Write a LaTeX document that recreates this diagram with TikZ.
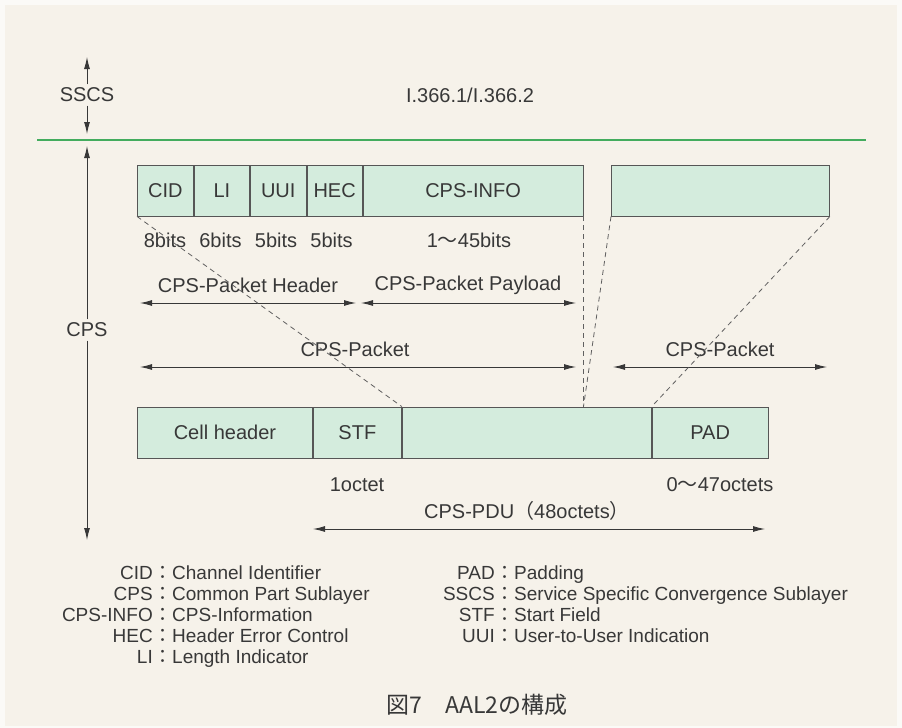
\documentclass[tikz,border=0pt]{standalone}
\usepackage{fontspec}
\setmainfont{Liberation Sans}
\newfontfamily\jp{Noto Sans CJK JP}
\usetikzlibrary{arrows.meta}
\definecolor{paper}{HTML}{F6F2EA}
\definecolor{margin}{HTML}{FBFAF7}
\definecolor{mint}{HTML}{D4ECDD}
\definecolor{ink}{HTML}{383838}
\definecolor{layer}{HTML}{43AC5E}

\begin{document}
\begin{tikzpicture}[x=1pt,y=-1pt,
  every node/.style={text=ink,font=\fontsize{20}{24}\selectfont},
  fld/.style={draw=ink!85,fill=mint,line width=0.9pt,minimum height=51pt,inner sep=0pt,anchor=west},
  lbl/.style={inner sep=1pt},
  key/.style={inner sep=0pt,anchor=base east,font=\fontsize{19}{21}\selectfont},
  val/.style={inner sep=0pt,anchor=base west,font=\fontsize{19}{21}\selectfont},
  dim/.style={ink,line width=0.9pt,{Latex[length=12pt,width=6pt]}-{Latex[length=12pt,width=6pt]}},
  tip/.style={ink,line width=0.9pt,-{Latex[length=12pt,width=6pt]}},
  guide/.style={ink!80,line width=0.8pt,dash pattern=on 5pt off 4pt}]
 \useasboundingbox (0,0) rectangle (902,728);
 \fill[margin] (0,0) rectangle (902,728);
 \fill[paper] (5,5) rectangle (897,726);
 % layer split
 \coordinate (ruleL) at (37,140);
 \coordinate (ruleR) at (866,140);
 \draw[layer,line width=2pt] (ruleL) -- (ruleR);
 \node (sscs) at (87,95) {SSCS};
 \coordinate (sscsUp) at (87,57);
 \coordinate (sscsDn) at (87,134);
 \draw[tip] (sscs) -- (sscsUp);
 \draw[tip] (sscs) -- (sscsDn);
 \node (itu) at (470,95) {I.366.1/I.366.2};
 \node (cps) at (87,330) {CPS};
 \coordinate (cpsUp) at (87,146);
 \coordinate (cpsDn) at (87,540);
 \draw[tip] (cps) -- (cpsUp);
 \draw[tip] (cps) -- (cpsDn);
 % CPS packets
 \node[fld,minimum width=56pt] (cid) at (137,190.5) {CID};
 \node[fld,minimum width=55pt] (li) at (cid.east) {LI};
 \node[fld,minimum width=56pt] (uui) at (li.east) {UUI};
 \node[fld,minimum width=55pt] (hec) at (uui.east) {HEC};
 \node[fld,minimum width=220pt] (info) at (hec.east) {CPS-INFO};
 \node[fld,minimum width=218pt] (nxt) at (611,190.5) {};
 \node[lbl] (bcid) at (165,240) {8bits};
 \node[lbl] (bli) at (220.5,240) {6bits};
 \node[lbl] (buui) at (276,240) {5bits};
 \node[lbl] (bhec) at (331.5,240) {5bits};
 \node[lbl] (binfo) at (469,240) {1{\jp ～}45bits};
 \node[lbl] (hdr) at (248,285) {CPS-Packet Header};
 \node[lbl] (pay) at (468,285) {CPS-Packet Payload};
 \coordinate (hdrL) at (140,303);
 \coordinate (hdrR) at (356,303);
 \coordinate (payL) at (361,303);
 \coordinate (payR) at (576,303);
 \draw[dim] (hdrL) -- (hdrR);
 \draw[dim] (payL) -- (payR);
 \node[lbl] (pkt) at (355,349) {CPS-Packet};
 \node[lbl] (pkt2) at (720,349) {CPS-Packet};
 \coordinate (pktL) at (140,367);
 \coordinate (pktR) at (576,367);
 \coordinate (pkt2L) at (613,367);
 \coordinate (pkt2R) at (827,367);
 \draw[dim] (pktL) -- (pktR);
 \draw[dim] (pkt2L) -- (pkt2R);
 % ATM cell payload
 \node[fld,minimum width=175pt] (cell) at (137,432.5) {Cell header};
 \node[fld,minimum width=88pt] (stf) at (cell.east) {STF};
 \node[fld,minimum width=249pt] (mid) at (stf.east) {};
 \node[fld,minimum width=116pt] (pad) at (mid.east) {PAD};
 \coordinate (join) at (info.south east |- mid.north);
 \draw[guide] (cid.south west) -- (mid.north west);
 \draw[guide] (info.south east) -- (join);
 \draw[guide] (nxt.south west) -- (join);
 \draw[guide] (nxt.south east) -- (pad.north west);
 \node[lbl] (ostf) at (357,485) {1octet};
 \node[lbl] (opad) at (720,485) {0{\jp ～}47octets};
 \node[lbl] (pdu) at (527,511) {CPS-PDU{\jp （}48octets{\jp ）}};
 \coordinate (pduL) at (313,529);
 \coordinate (pduR) at (765,529);
 \draw[dim] (pduL) -- (pduR);
 % abbreviations
 \foreach \k/\v [count=\i] in {CID/Channel Identifier,CPS/Common Part Sublayer,
   CPS-INFO/CPS-Information,HEC/Header Error Control,LI/Length Indicator} {
   \node[key] (lk\i) at (153,558+21*\i) {\k};
   \node[val] (lv\i) at (lk\i.base east) {{\jp\smash{：}}\v};
 }
 \foreach \k/\v [count=\i] in {PAD/Padding,SSCS/Service Specific Convergence Sublayer,
   STF/Start Field,UUI/User-to-User Indication} {
   \node[key] (rk\i) at (495,558+21*\i) {\k};
   \node[val] (rv\i) at (rk\i.base east) {{\jp\smash{：}}\v};
 }
 \node (cap) at (477,705) {\jp\fontsize{23}{27}\selectfont 図7　AAL2の構成};
\end{tikzpicture}
\end{document}
